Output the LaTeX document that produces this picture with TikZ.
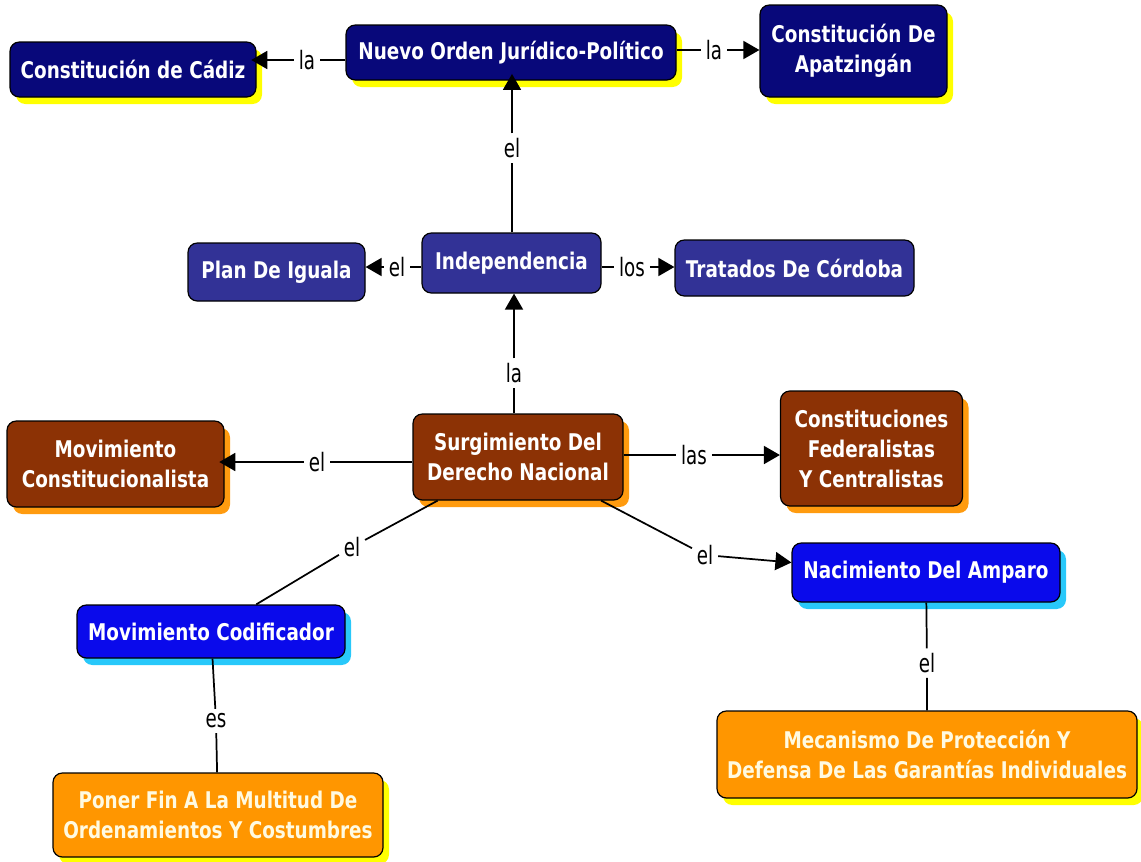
\documentclass[tikz,border=0pt]{standalone}
\usepackage{fontspec}
\setmainfont{DejaVu Sans}[FakeStretch=0.8]
\newfontfamily\lblfont{DejaVu Sans}[FakeStretch=0.72]
\usetikzlibrary{arrows.meta,shadows}
\definecolor{cnavy}{RGB}{8,8,122}
\definecolor{cmid}{RGB}{50,50,150}
\definecolor{cbrown}{RGB}{140,50,5}
\definecolor{cblue}{RGB}{10,10,235}
\definecolor{corange}{RGB}{255,150,0}
\definecolor{cyel}{RGB}{255,255,0}
\definecolor{cshorange}{RGB}{255,155,15}
\definecolor{ccyan}{RGB}{40,200,250}
\definecolor{ccream}{RGB}{255,250,225}
\tikzset{
  box/.style={draw=black, line width=0.9pt, rounded corners=7pt, align=center,
    font=\fontsize{17.25}{22.5}\selectfont\bfseries, text=white, inner sep=0pt},
  navybox/.style={box, fill=cnavy,
    drop shadow={fill=cyel, opacity=1, shadow xshift=4.5pt, shadow yshift=-5.25pt}},
  midbox/.style={box, fill=cmid},
  brownbox/.style={box, fill=cbrown,
    drop shadow={fill=cshorange, opacity=1, shadow xshift=4.5pt, shadow yshift=-5.25pt}},
  bluebox/.style={box, fill=cblue,
    drop shadow={fill=ccyan, opacity=1, shadow xshift=4.5pt, shadow yshift=-5.25pt}},
  orangebox/.style={box, fill=corange, text=ccream,
    drop shadow={fill=cyel, opacity=1, shadow xshift=4.5pt, shadow yshift=-5.25pt}},
  lbl/.style={font=\lblfont\fontsize{19}{21}\selectfont, inner sep=3.5pt},
  link/.style={draw=black, line width=1.3pt},
  arr/.style={link, -{Triangle[length=12pt,width=13.5pt]}},
}
\begin{document}
\begin{tikzpicture}[x=0.75pt, y=-0.75pt]
\fill[white] (0,0) rectangle (1141,861);
\useasboundingbox (0,0) rectangle (1141,861);

% nodes
\node[navybox, minimum width=184.5pt, minimum height=41.25pt] (cadiz) at (133,69.5) {Constitución de Cádiz};
\node[navybox, minimum width=247.5pt, minimum height=41.25pt] (nuevo) at (511,52.5) {Nuevo Orden Jurídico-Político};
\node[navybox, minimum width=140.25pt, minimum height=69pt] (apatz) at (853.5,51) {Constitución De\\Apatzingán};
\node[midbox, minimum width=132.75pt, minimum height=43.5pt] (plan) at (276.5,272) {Plan De Iguala};
\node[midbox, minimum width=134.25pt, minimum height=45pt] (indep) at (511.5,263) {Independencia};
\node[midbox, minimum width=179.25pt, minimum height=42pt] (tratados) at (794.5,268) {Tratados De Córdoba};
\node[brownbox, minimum width=162.75pt, minimum height=64.5pt] (movcons) at (115.5,464) {Movimiento\\Constitucionalista};
\node[brownbox, minimum width=157.5pt, minimum height=64.5pt] (surg) at (518,457) {Surgimiento Del\\Derecho Nacional};
\node[brownbox, minimum width=136.5pt, minimum height=86.25pt] (consfed) at (871.5,448.5) {Constituciones\\Federalistas\\Y Centralistas};
\node[bluebox, minimum width=201pt, minimum height=39.75pt] (movcod) at (211,631.5) {Movimiento Codificador};
\node[bluebox, minimum width=201pt, minimum height=44.25pt] (nac) at (926,572.5) {Nacimiento Del Amparo};
\node[orangebox, minimum width=247.5pt, minimum height=63pt] (poner) at (218,815) {Poner Fin A La Multitud De\\Ordenamientos Y Costumbres};
\node[orangebox, minimum width=315pt, minimum height=65.25pt] (mec) at (927,754.5) {Mecanismo De Protección Y\\Defensa De Las Garantías Individuales};

% labels
\node[lbl] (l1) at (307,60) {la};
\node[lbl] (l2) at (714,50) {la};
\node[lbl] (l3) at (512,148) {el};
\node[lbl] (l4) at (397,267) {el};
\node[lbl] (l5) at (632,267) {los};
\node[lbl] (l6) at (514,373) {la};
\node[lbl] (l7) at (317,462) {el};
\node[lbl] (l8) at (694,455) {las};
\node[lbl] (l9) at (352,547) {el};
\node[lbl] (l10) at (705,555) {el};
\node[lbl] (l11) at (216,721) {es};
\node[lbl] (l12) at (927,663) {el};

% connectors
\draw[link] (nuevo.west |- l1) -- (l1);
\draw[arr, shorten >=-4pt] (l1) -- (l1 -| cadiz.east);
\draw[link] (nuevo.east |- l2) -- (l2);
\draw[arr] (l2) -- (l2 -| apatz.west);
\draw[link] (indep.north -| l3) -- (l3);
\draw[arr, shorten >=-5pt] (l3) -- (l3 |- nuevo.south);
\draw[link] (indep.west |- l4) -- (l4);
\draw[arr] (l4) -- (l4 -| plan.east);
\draw[link] (indep.east |- l5) -- (l5);
\draw[arr] (l5) -- (l5 -| tratados.west);
\draw[link] (surg.north -| l6) -- (l6);
\draw[arr] (l6) -- (l6 |- indep.south);
\draw[link] (surg.west |- l7) -- (l7);
\draw[arr, shorten >=-4pt] (l7) -- (l7 -| movcons.east);
\draw[link] (surg.east |- l8) -- (l8);
\draw[arr] (l8) -- (l8 -| consfed.west);
\draw[link] (surg) -- (l9) -- (movcod);
\draw[link] (surg) -- (l10);
\draw[arr] (l10) -- ([yshift=7.5pt]nac.west);
\draw[link] (movcod) -- (l11) -- (poner);
\draw[link] (nac) -- (l12) -- (mec);
\end{tikzpicture}
\end{document}
